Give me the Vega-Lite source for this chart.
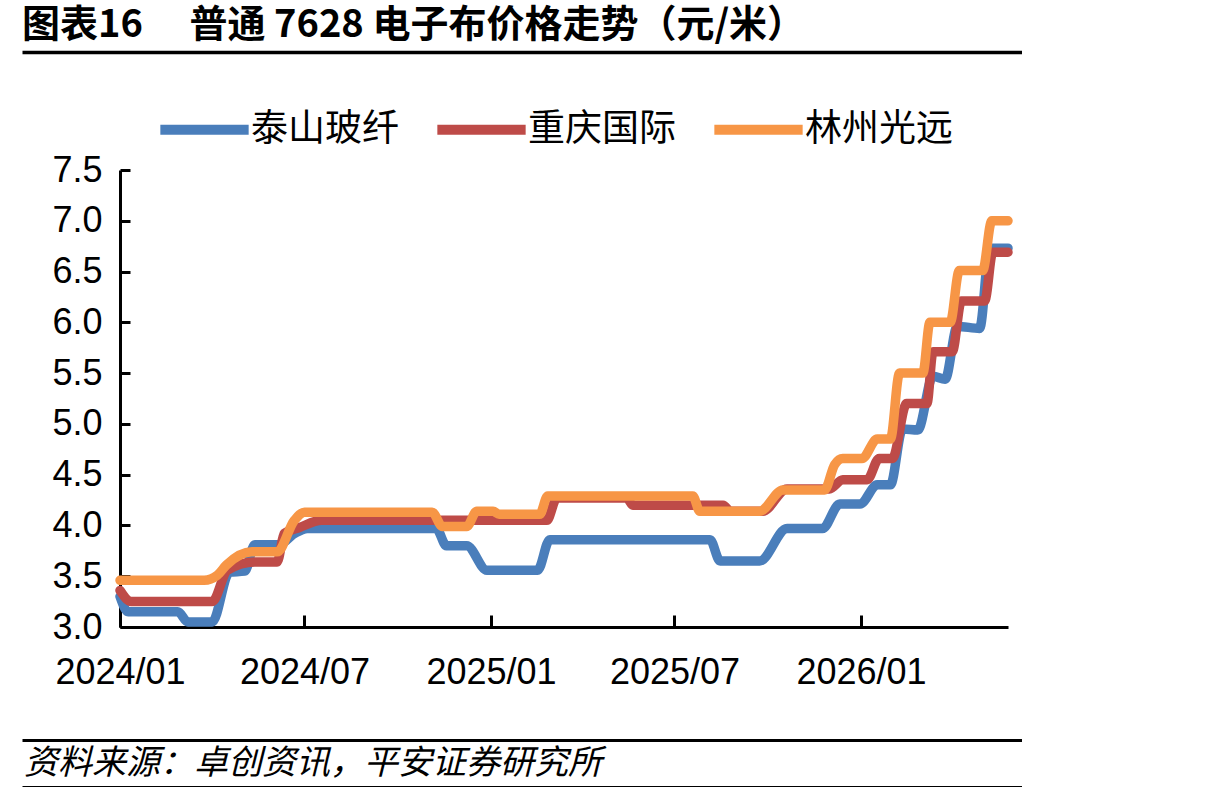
{
  "$schema": "https://vega.github.io/schema/vega-lite/v6.json",
  "padding": {"left": 22, "top": 0, "right": 0, "bottom": 0},
  "spacing": 0,
  "columns": 1,
  "align": "none",
  "background": "white",
  "config": {"view": {"stroke": null}, "font": "Liberation Sans"},
  "resolve": {"legend": {"color": "independent"}, "scale": {"x": "independent", "y": "independent", "color": "independent"}},
  "datasets": {
    "prices": [
      {"company": "泰山玻纤", "date": "2024-01-01", "price": 3.30},
      {"company": "泰山玻纤", "date": "2024-01-09", "price": 3.15},
      {"company": "泰山玻纤", "date": "2024-02-27", "price": 3.15},
      {"company": "泰山玻纤", "date": "2024-03-08", "price": 3.05},
      {"company": "泰山玻纤", "date": "2024-04-01", "price": 3.05},
      {"company": "泰山玻纤", "date": "2024-04-18", "price": 3.54},
      {"company": "泰山玻纤", "date": "2024-05-03", "price": 3.55},
      {"company": "泰山玻纤", "date": "2024-05-13", "price": 3.81},
      {"company": "泰山玻纤", "date": "2024-06-06", "price": 3.81},
      {"company": "泰山玻纤", "date": "2024-06-21", "price": 3.92},
      {"company": "泰山玻纤", "date": "2024-07-04", "price": 3.97},
      {"company": "泰山玻纤", "date": "2024-11-08", "price": 3.97},
      {"company": "泰山玻纤", "date": "2024-11-18", "price": 3.80},
      {"company": "泰山玻纤", "date": "2024-12-08", "price": 3.80},
      {"company": "泰山玻纤", "date": "2024-12-28", "price": 3.56},
      {"company": "泰山玻纤", "date": "2025-02-16", "price": 3.56},
      {"company": "泰山玻纤", "date": "2025-02-28", "price": 3.86},
      {"company": "泰山玻纤", "date": "2025-08-05", "price": 3.86},
      {"company": "泰山玻纤", "date": "2025-08-15", "price": 3.65},
      {"company": "泰山玻纤", "date": "2025-09-23", "price": 3.65},
      {"company": "泰山玻纤", "date": "2025-10-20", "price": 3.97},
      {"company": "泰山玻纤", "date": "2025-11-24", "price": 3.97},
      {"company": "泰山玻纤", "date": "2025-12-11", "price": 4.21},
      {"company": "泰山玻纤", "date": "2025-12-31", "price": 4.21},
      {"company": "泰山玻纤", "date": "2026-01-17", "price": 4.40},
      {"company": "泰山玻纤", "date": "2026-01-30", "price": 4.40},
      {"company": "泰山玻纤", "date": "2026-02-11", "price": 4.95},
      {"company": "泰山玻纤", "date": "2026-02-26", "price": 4.94},
      {"company": "泰山玻纤", "date": "2026-03-13", "price": 5.47},
      {"company": "泰山玻纤", "date": "2026-03-25", "price": 5.44},
      {"company": "泰山玻纤", "date": "2026-04-06", "price": 5.96},
      {"company": "泰山玻纤", "date": "2026-04-28", "price": 5.94},
      {"company": "泰山玻纤", "date": "2026-05-08", "price": 6.73},
      {"company": "泰山玻纤", "date": "2026-05-26", "price": 6.73},
      {"company": "重庆国际", "date": "2024-01-01", "price": 3.36},
      {"company": "重庆国际", "date": "2024-01-12", "price": 3.25},
      {"company": "重庆国际", "date": "2024-04-01", "price": 3.25},
      {"company": "重庆国际", "date": "2024-04-16", "price": 3.56},
      {"company": "重庆国际", "date": "2024-05-13", "price": 3.64},
      {"company": "重庆国际", "date": "2024-06-04", "price": 3.64},
      {"company": "重庆国际", "date": "2024-06-11", "price": 3.92},
      {"company": "重庆国际", "date": "2024-06-26", "price": 3.98},
      {"company": "重庆国际", "date": "2024-07-18", "price": 4.05},
      {"company": "重庆国际", "date": "2025-02-25", "price": 4.05},
      {"company": "重庆国际", "date": "2025-03-07", "price": 4.27},
      {"company": "重庆国际", "date": "2025-05-15", "price": 4.27},
      {"company": "重庆国际", "date": "2025-05-21", "price": 4.20},
      {"company": "重庆国际", "date": "2025-08-18", "price": 4.20},
      {"company": "重庆国际", "date": "2025-08-25", "price": 4.14},
      {"company": "重庆国际", "date": "2025-09-26", "price": 4.14},
      {"company": "重庆国际", "date": "2025-10-20", "price": 4.36},
      {"company": "重庆国际", "date": "2025-12-01", "price": 4.36},
      {"company": "重庆国际", "date": "2025-12-14", "price": 4.45},
      {"company": "重庆国际", "date": "2026-01-07", "price": 4.45},
      {"company": "重庆国际", "date": "2026-01-19", "price": 4.66},
      {"company": "重庆国际", "date": "2026-02-01", "price": 4.66},
      {"company": "重庆国际", "date": "2026-02-15", "price": 5.20},
      {"company": "重庆国际", "date": "2026-03-07", "price": 5.20},
      {"company": "重庆国际", "date": "2026-03-13", "price": 5.71},
      {"company": "重庆国际", "date": "2026-04-01", "price": 5.71},
      {"company": "重庆国际", "date": "2026-04-10", "price": 6.21},
      {"company": "重庆国际", "date": "2026-05-03", "price": 6.21},
      {"company": "重庆国际", "date": "2026-05-11", "price": 6.69},
      {"company": "重庆国际", "date": "2026-05-26", "price": 6.69},
      {"company": "林州光远", "date": "2024-01-01", "price": 3.46},
      {"company": "林州光远", "date": "2024-03-24", "price": 3.46},
      {"company": "林州光远", "date": "2024-04-06", "price": 3.51},
      {"company": "林州光远", "date": "2024-04-15", "price": 3.61},
      {"company": "林州光远", "date": "2024-05-10", "price": 3.74},
      {"company": "林州光远", "date": "2024-06-04", "price": 3.74},
      {"company": "林州光远", "date": "2024-06-21", "price": 4.05},
      {"company": "林州光远", "date": "2024-07-01", "price": 4.13},
      {"company": "林州光远", "date": "2024-11-04", "price": 4.13},
      {"company": "林州光远", "date": "2024-11-14", "price": 3.99},
      {"company": "林州光远", "date": "2024-12-08", "price": 3.99},
      {"company": "林州光远", "date": "2024-12-18", "price": 4.14},
      {"company": "林州光远", "date": "2025-01-03", "price": 4.14},
      {"company": "林州光远", "date": "2025-01-09", "price": 4.11},
      {"company": "林州光远", "date": "2025-02-18", "price": 4.11},
      {"company": "林州光远", "date": "2025-02-26", "price": 4.29},
      {"company": "林州光远", "date": "2025-07-19", "price": 4.29},
      {"company": "林州光远", "date": "2025-07-26", "price": 4.14},
      {"company": "林州光远", "date": "2025-09-23", "price": 4.14},
      {"company": "林州光远", "date": "2025-10-16", "price": 4.35},
      {"company": "林州光远", "date": "2025-11-26", "price": 4.35},
      {"company": "林州光远", "date": "2025-12-06", "price": 4.60},
      {"company": "林州光远", "date": "2025-12-14", "price": 4.66},
      {"company": "林州光远", "date": "2026-01-02", "price": 4.66},
      {"company": "林州光远", "date": "2026-01-17", "price": 4.85},
      {"company": "林州光远", "date": "2026-01-30", "price": 4.85},
      {"company": "林州光远", "date": "2026-02-08", "price": 5.50},
      {"company": "林州光远", "date": "2026-03-03", "price": 5.50},
      {"company": "林州光远", "date": "2026-03-10", "price": 6.00},
      {"company": "林州光远", "date": "2026-03-30", "price": 6.00},
      {"company": "林州光远", "date": "2026-04-08", "price": 6.51},
      {"company": "林州光远", "date": "2026-05-01", "price": 6.51},
      {"company": "林州光远", "date": "2026-05-10", "price": 7.00},
      {"company": "林州光远", "date": "2026-05-26", "price": 7.00}
    ]
  },
  "concat": [
    {
      "width": 1000,
      "height": 52,
      "data": {"values": [{"pos": 0, "mid": 0.5, "label": "图表16　 普通 7628 电子布价格走势（元/米）"}]},
      "mark": {"type": "text", "align": "left", "baseline": "middle", "font": "Noto Sans CJK SC", "fontWeight": "bold", "fontSize": 38, "color": "black"},
      "encoding": {
        "x": {"field": "pos", "type": "quantitative", "scale": {"domain": [0, 1]},
          "axis": {"orient": "bottom", "title": null, "labels": false, "ticks": false, "grid": false, "domainColor": "black", "domainWidth": 3.5, "minExtent": 28, "maxExtent": 28}},
        "y": {"field": "mid", "type": "quantitative", "scale": {"domain": [0, 1]}, "axis": null},
        "text": {"field": "label"}
      }
    },
    {
      "width": 986,
      "height": 457,
      "data": {"name": "prices"},
      "encoding": {
        "x": {"field": "date", "type": "temporal",
          "scale": {"domain": [{"year": 2024, "month": 1, "date": 1}, {"year": 2026, "month": 5, "date": 26}], "range": [98, 986]},
          "axis": {"title": null, "format": "%Y/%m", "grid": false,
            "values": [{"year": 2024, "month": 1, "date": 1}, {"year": 2024, "month": 7, "date": 1}, {"year": 2025, "month": 1, "date": 1}, {"year": 2025, "month": 7, "date": 1}, {"year": 2026, "month": 1, "date": 1}],
            "domainColor": "black", "domainWidth": 3, "tickColor": "black", "tickWidth": 3, "tickSize": -12,
            "labelFont": "Liberation Sans", "labelFontSize": 36, "labelColor": "black", "labelPadding": 40, "labelFlush": false, "labelOverlap": false,
            "minExtent": 73, "maxExtent": 73}},
        "y": {"field": "price", "type": "quantitative",
          "scale": {"domain": [3, 7.5], "nice": false, "zero": false},
          "axis": {"title": null, "grid": false, "format": ".1f", "offset": -98,
            "values": [3, 3.5, 4, 4.5, 5, 5.5, 6, 6.5, 7, 7.5],
            "domainColor": "black", "domainWidth": 3, "tickColor": "black", "tickWidth": 3, "tickSize": -10,
            "labelFont": "Liberation Sans", "labelFontSize": 36, "labelColor": "black", "labelPadding": 28, "labelOverlap": false,
            "minExtent": 0, "maxExtent": 0}},
        "color": {"field": "company", "type": "nominal",
          "scale": {"domain": ["泰山玻纤", "重庆国际", "林州光远"], "range": ["#4A7EBB", "#BE4B48", "#F79646"]},
          "legend": {"orient": "none", "legendX": 133, "legendY": -90, "direction": "horizontal", "title": null,
            "symbolType": "stroke", "symbolStrokeWidth": 10, "symbolSize": 7800,
            "labelFont": "Noto Sans CJK SC", "labelFontSize": 37, "labelColor": "black", "labelLimit": 0,
            "labelOffset": -3, "columnPadding": 18, "padding": 0}}
      },
      "layer": [
        {"transform": [{"filter": "datum.company === '泰山玻纤'"}],
         "mark": {"type": "line", "strokeWidth": 9.5, "interpolate": "monotone", "strokeCap": "round", "strokeJoin": "round"}},
        {"transform": [{"filter": "datum.company === '重庆国际'"}],
         "mark": {"type": "line", "strokeWidth": 9.5, "interpolate": "monotone", "strokeCap": "round", "strokeJoin": "round"}},
        {"transform": [{"filter": "datum.company === '林州光远'"}],
         "mark": {"type": "line", "strokeWidth": 9.5, "interpolate": "monotone", "strokeCap": "round", "strokeJoin": "round"}}
      ]
    },
    {
      "width": 1000,
      "height": 47,
      "data": {"values": [{"pos": 0, "mid": 0.5, "label": "资料来源：卓创资讯，平安证券研究所"}]},
      "encoding": {
        "y": {"field": "mid", "type": "quantitative", "scale": {"domain": [0, 1]}, "axis": null},
        "text": {"field": "label"}
      },
      "layer": [
        {"mark": {"type": "text", "align": "left", "baseline": "middle", "font": "Noto Sans CJK SC", "fontStyle": "italic", "fontSize": 34, "color": "black", "dx": 2},
         "encoding": {
           "x": {"field": "pos", "type": "quantitative", "scale": {"domain": [0, 1]},
             "axis": {"orient": "top", "title": null, "labels": false, "ticks": false, "grid": false, "domainColor": "black", "domainWidth": 3, "minExtent": 40, "maxExtent": 40}}}},
        {"mark": {"type": "text", "opacity": 0, "align": "left", "baseline": "middle", "font": "Noto Sans CJK SC", "fontSize": 34, "dx": 2},
         "encoding": {
           "x": {"field": "pos", "type": "quantitative", "scale": {"domain": [0, 1]},
             "axis": {"orient": "bottom", "title": null, "labels": false, "ticks": false, "grid": false, "domainColor": "black", "domainWidth": 3}}}}
      ],
      "resolve": {"axis": {"x": "independent"}}
    }
  ]
}
